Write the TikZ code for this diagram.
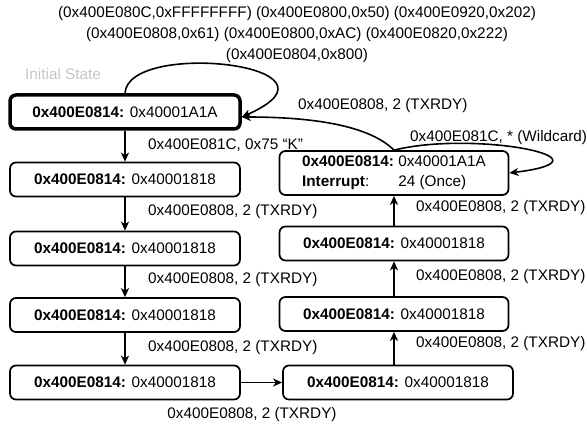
\documentclass[tikz,border=0pt]{standalone}
\usepackage{fontspec}
\setmainfont{Liberation Sans}
\usetikzlibrary{arrows.meta,positioning}

\begin{document}
\begin{tikzpicture}[x=1pt,y=-1pt,
	every node/.style={font=\fontsize{15.3}{20}\selectfont},
	state/.style={draw,rounded corners=6pt,line width=1.7pt,minimum width=230pt,minimum height=34pt,inner sep=2pt},
	arr/.style={-{Stealth[length=9pt,width=8pt,inset=2.5pt]},line width=1.6pt},
	lbl/.style={anchor=west,inner sep=0pt}]
	\useasboundingbox (0,0) rectangle (587,425);
	% left column
	\node[state,line width=3.5pt] (init) at (125,112) {\textbf{0x400E0814:} 0x40001A1A};
	\foreach \i/\y in {2/179.5,3/248.5,4/315,5/382.5}{\node[state] (l\i) at (125,\y) {\textbf{0x400E0814:} 0x40001818};}
	% right column
	\node[state] (r1) at (398,382.5) {\textbf{0x400E0814:} 0x40001818};
	\node[state,minimum width=229pt] (r2) at (394,314) {\textbf{0x400E0814:} 0x40001818};
	\node[state,minimum width=229pt] (r3) at (394,243.5) {\textbf{0x400E0814:} 0x40001818};
	\node[state,minimum width=229pt,minimum height=39pt] (irq) at (394,173) {\begin{tabular}{@{}l@{\ }l@{}}\textbf{0x400E0814:} & 0x40001A1A\\ \textbf{Interrupt}: & 24 (Once)\end{tabular}};
	% transitions
	\draw[arr] (init) -- (l2);
	\foreach \a/\b in {2/3,3/4,4/5}{\draw[arr] (l\a) -- (l\b);}
	\draw[arr] (l5) -- (r1);
	\draw[arr] (r1.north -| r2.south) -- (r2.south);
	\draw[arr] (r2) -- (r3);
	\draw[arr] (r3) -- (irq);
	\draw[arr] (init.north) .. controls +(3,-54) and +(118,-52) .. ([yshift=-5pt]init.east);
	\draw[arr] (irq.north) .. controls +(-25,-25) and +(70,0) .. ([yshift=-5pt]init.east);
	\draw[arr] (irq.north) .. controls +(80,-20) and +(113,-14) .. (irq.east);
	% labels
	\node[lbl,text=gray!45] (iLbl) at (25,74) {Initial State};
	\node[align=center,inner sep=0pt,font=\fontsize{15.3}{21}\selectfont] (regs) at (297,35) {(0x400E080C,0xFFFFFFFF) (0x400E0800,0x50) (0x400E0920,0x202)\\(0x400E0808,0x61) (0x400E0800,0xAC) (0x400E0820,0x222)\\(0x400E0804,0x800)};
	\node[lbl] (kLbl) at (148,145) {0x400E081C, 0x75 “K”};
	\foreach \y in {212,280,348}{\node[lbl] at (148,\y) {0x400E0808, 2 (TXRDY)};}
	\node[inner sep=0pt] (bLbl) at (252,415) {0x400E0808, 2 (TXRDY)};
	\foreach \y in {208,277,344}{\node[lbl] at (416,\y) {0x400E0808, 2 (TXRDY)};}
	\node[lbl] (wLbl) at (410,138) {0x400E081C, * (Wildcard)};
	\node[lbl] (tLbl) at (298,106) {0x400E0808, 2 (TXRDY)};
\end{tikzpicture}
\end{document}
